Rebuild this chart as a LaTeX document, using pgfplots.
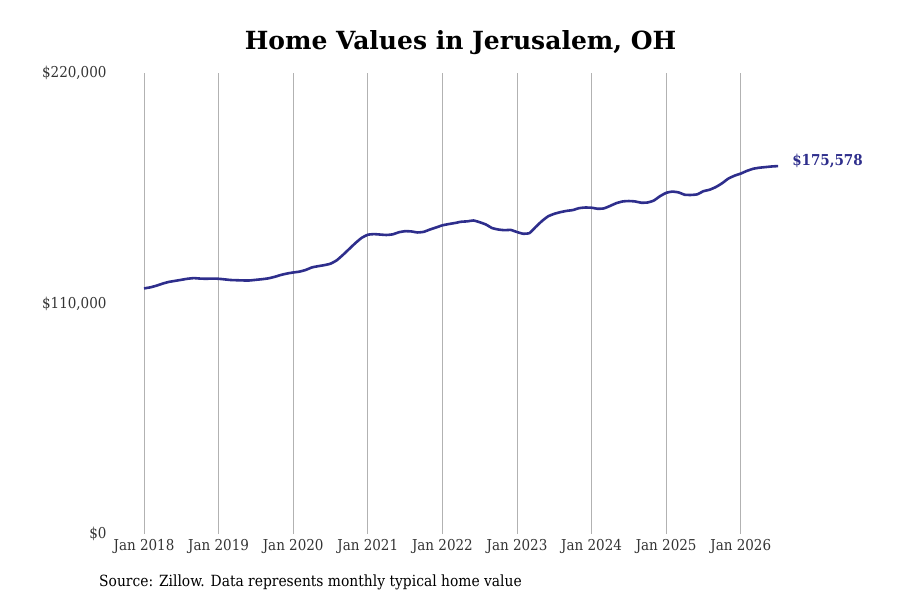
\documentclass[border=0pt]{standalone}
\usepackage{fontspec}
\setmainfont{DejaVu Serif Condensed}
\newfontfamily\titlefont{DejaVu Serif}
\usepackage{pgfplots}
\pgfplotsset{compat=1.18}
\definecolor{linecol}{RGB}{46,46,140}
\begin{document}
\begin{tikzpicture}
\path[use as bounding box] (0pt,0pt) rectangle (900pt,600pt);
\begin{axis}[
  at={(106.7pt,66pt)}, anchor=south west, scale only axis,
  width=686.3pt, height=461pt,
  xmin=2017.5, xmax=2026.7, ymin=0, ymax=220000,
  axis line style={draw=none}, major tick length=0pt,
  xmajorgrids, grid style={black!30, line width=0.7pt},
  xtick={2018,2019,2020,2021,2022,2023,2024,2025,2026},
  xticklabels={Jan 2018,Jan 2019,Jan 2020,Jan 2021,Jan 2022,Jan 2023,Jan 2024,Jan 2025,Jan 2026},
  ytick={0,110000,220000},
  yticklabels={\$0,{\$110,000},{\$220,000}},
  scaled y ticks=false,
  xticklabel style={font=\fontsize{15}{18}\selectfont, text=black!80, anchor=north, inner sep=0pt, yshift=-5pt},
  yticklabel style={font=\fontsize{15}{18}\selectfont, text=black!80, anchor=east, inner sep=0pt},
  clip=false,
]
\addplot[linecol, line width=2.6pt, smooth, tension=0.3] coordinates {
(2018.000,117200)(2018.083,117700)(2018.167,118500)(2018.250,119500)(2018.333,120300)(2018.417,120800)
(2018.500,121300)(2018.583,121800)(2018.667,122100)(2018.750,121900)(2018.833,121800)(2018.917,121900)
(2019.000,121800)(2019.083,121500)(2019.167,121200)(2019.250,121100)(2019.333,121000)(2019.417,121000)
(2019.500,121300)(2019.583,121600)(2019.667,122000)(2019.750,122700)(2019.833,123600)(2019.917,124300)
(2020.000,124800)(2020.083,125200)(2020.167,126000)(2020.250,127200)(2020.333,127800)(2020.417,128300)
(2020.500,129000)(2020.583,130600)(2020.667,133200)(2020.750,136000)(2020.833,138800)(2020.917,141300)
(2021.000,142800)(2021.083,143100)(2021.167,142900)(2021.250,142700)(2021.333,143000)(2021.417,144000)
(2021.500,144500)(2021.583,144400)(2021.667,143900)(2021.750,144200)(2021.833,145300)(2021.917,146300)
(2022.000,147300)(2022.083,147900)(2022.167,148400)(2022.250,149000)(2022.333,149200)(2022.417,149600)
(2022.500,148800)(2022.583,147700)(2022.667,146000)(2022.750,145300)(2022.833,145000)(2022.917,145100)
(2023.000,144100)(2023.083,143300)(2023.167,143600)(2023.250,146500)(2023.333,149300)(2023.417,151600)
(2023.500,152800)(2023.583,153600)(2023.667,154200)(2023.750,154600)(2023.833,155500)(2023.917,155800)
(2024.000,155700)(2024.083,155200)(2024.167,155400)(2024.250,156600)(2024.333,157900)(2024.417,158700)
(2024.500,158900)(2024.583,158700)(2024.667,158100)(2024.750,158200)(2024.833,159100)(2024.917,161200)
(2025.000,162800)(2025.083,163400)(2025.167,163000)(2025.250,161900)(2025.333,161800)(2025.417,162100)
(2025.500,163600)(2025.583,164300)(2025.667,165600)(2025.750,167400)(2025.833,169600)(2025.917,171000)
(2026.000,172000)(2026.083,173300)(2026.167,174300)(2026.250,174800)(2026.333,175100)(2026.417,175400)
(2026.500,175578)
};
\node[anchor=west, text=linecol, font=\bfseries\fontsize{15}{18}\selectfont, xshift=14pt, yshift=5pt, inner sep=0pt] at (axis cs:2026.5,175578) {\$175,578};
\end{axis}
\node[font=\titlefont\bfseries\fontsize{25}{30}\selectfont] at (460.5pt,557pt) {Home Values in Jerusalem, OH};
\node[anchor=base west, inner sep=0pt, font=\fontsize{15.4}{18}\selectfont] at (99pt,13pt) {Source: Zillow. Data represents monthly typical home value};
\end{tikzpicture}
\end{document}
